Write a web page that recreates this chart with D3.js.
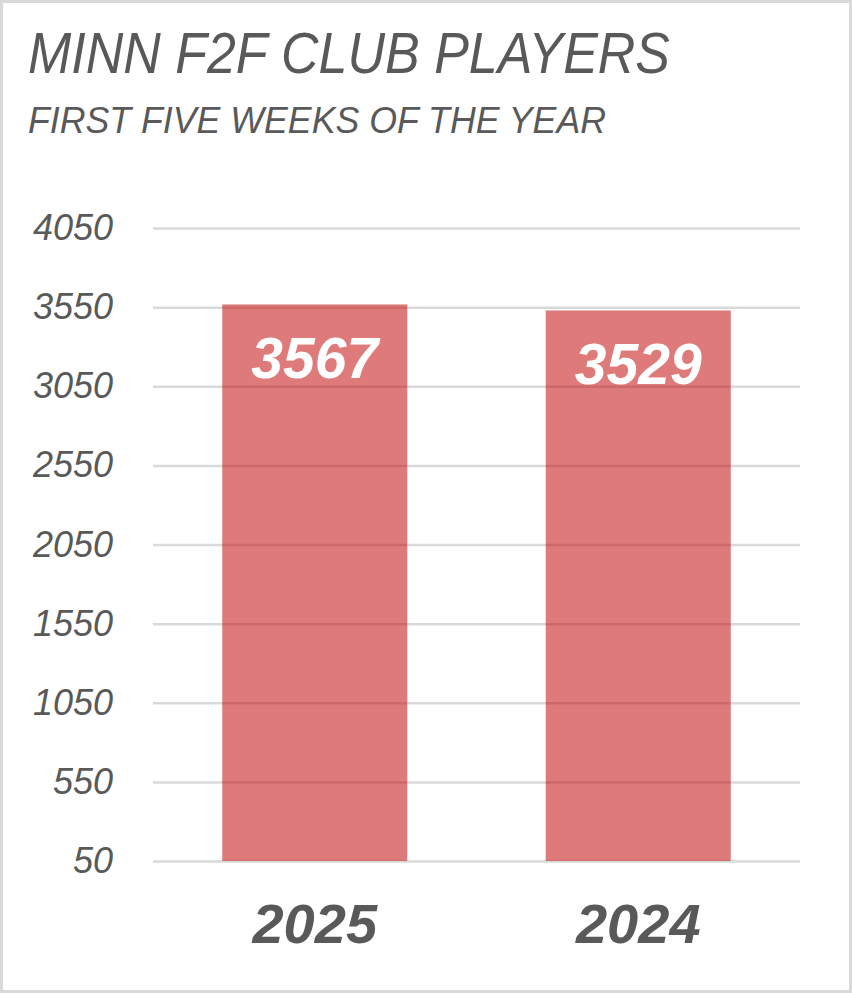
<!DOCTYPE html>
<html>
<head>
<meta charset="utf-8">
<script src="https://cdn.jsdelivr.net/npm/d3@7"></script>
<style>
  body { margin: 0; background: #fff; }
  text { font-family: "Liberation Sans", Arial, sans-serif; }
</style>
</head>
<body>
<div id="main"></div>
<script>
"use strict";

var years = ["2025", "2024"];
var players = [3567, 3529];
var yTicks = [50, 550, 1050, 1550, 2050, 2550, 3050, 3550, 4050];
var title = "MINN F2F CLUB PLAYERS";
var subtitle = "FIRST FIVE WEEKS OF THE YEAR";

var W = 852, H = 993;
var grey = "#595959";
var gridCol = "#d9d9d9";

var svg = d3.select("#main").append("svg")
  .attr("width", W)
  .attr("height", H);

// outer frame
svg.append("rect")
  .attr("x", 1.5).attr("y", 1.5)
  .attr("width", W - 3).attr("height", H - 3)
  .attr("fill", "#fff")
  .attr("stroke", gridCol)
  .attr("stroke-width", 3);

svg.append("text")
  .attr("x", 28).attr("y", 73)
  .attr("fill", grey)
  .attr("font-size", 58)
  .attr("font-style", "italic")
  .attr("textLength", 642)
  .attr("lengthAdjust", "spacingAndGlyphs")
  .text(title);

svg.append("text")
  .attr("x", 28).attr("y", 133)
  .attr("fill", grey)
  .attr("font-size", 37)
  .attr("font-style", "italic")
  .attr("textLength", 578)
  .attr("lengthAdjust", "spacingAndGlyphs")
  .text(subtitle);

var x = d3.scaleBand()
  .domain(years)
  .range([153, 800])
  .paddingInner(0.428)
  .paddingOuter(0.214);

var y = d3.scaleLinear()
  .domain([50, 4050])
  .range([861, 228]);

// gridlines + tick labels
var yAxis = d3.axisLeft(y)
  .tickValues(yTicks)
  .tickSize(-(800 - 153))
  .tickPadding(40)
  .tickFormat(d3.format("d"));

var gy = svg.append("g")
  .attr("transform", "translate(153,0)")
  .call(yAxis);
gy.select(".domain").remove();
gy.selectAll(".tick line")
  .attr("stroke", gridCol)
  .attr("stroke-width", 2.5);
gy.selectAll(".tick text")
  .attr("fill", grey)
  .attr("font-size", 36)
  .attr("font-style", "italic")
  .attr("font-family", "'Liberation Sans', Arial, sans-serif")
  .attr("dy", "0.32em");

// bars
svg.selectAll("rect.bar")
  .data(players)
  .enter().append("rect")
  .attr("class", "bar")
  .attr("x", function(d, i) { return x(years[i]); })
  .attr("width", x.bandwidth())
  .attr("y", function(d) { return y(d); })
  .attr("height", function(d) { return y(50) - y(d); })
  .attr("fill", "#c00000")
  .attr("fill-opacity", 0.52);

// value labels
svg.selectAll("text.val")
  .data(players)
  .enter().append("text")
  .attr("class", "val")
  .attr("x", function(d, i) { return x(years[i]) + x.bandwidth() / 2; })
  .attr("y", function(d) { return y(d) + 74; })
  .attr("text-anchor", "middle")
  .attr("fill", "#fff")
  .attr("font-size", 57)
  .attr("font-weight", "bold")
  .attr("font-style", "italic")
  .text(function(d) { return d; });

// category labels
svg.selectAll("text.cat")
  .data(years)
  .enter().append("text")
  .attr("class", "cat")
  .attr("x", function(d) { return x(d) + x.bandwidth() / 2; })
  .attr("y", 943)
  .attr("text-anchor", "middle")
  .attr("fill", grey)
  .attr("font-size", 56)
  .attr("font-weight", "bold")
  .attr("font-style", "italic")
  .text(function(d) { return d; });
</script>
</body>
</html>
